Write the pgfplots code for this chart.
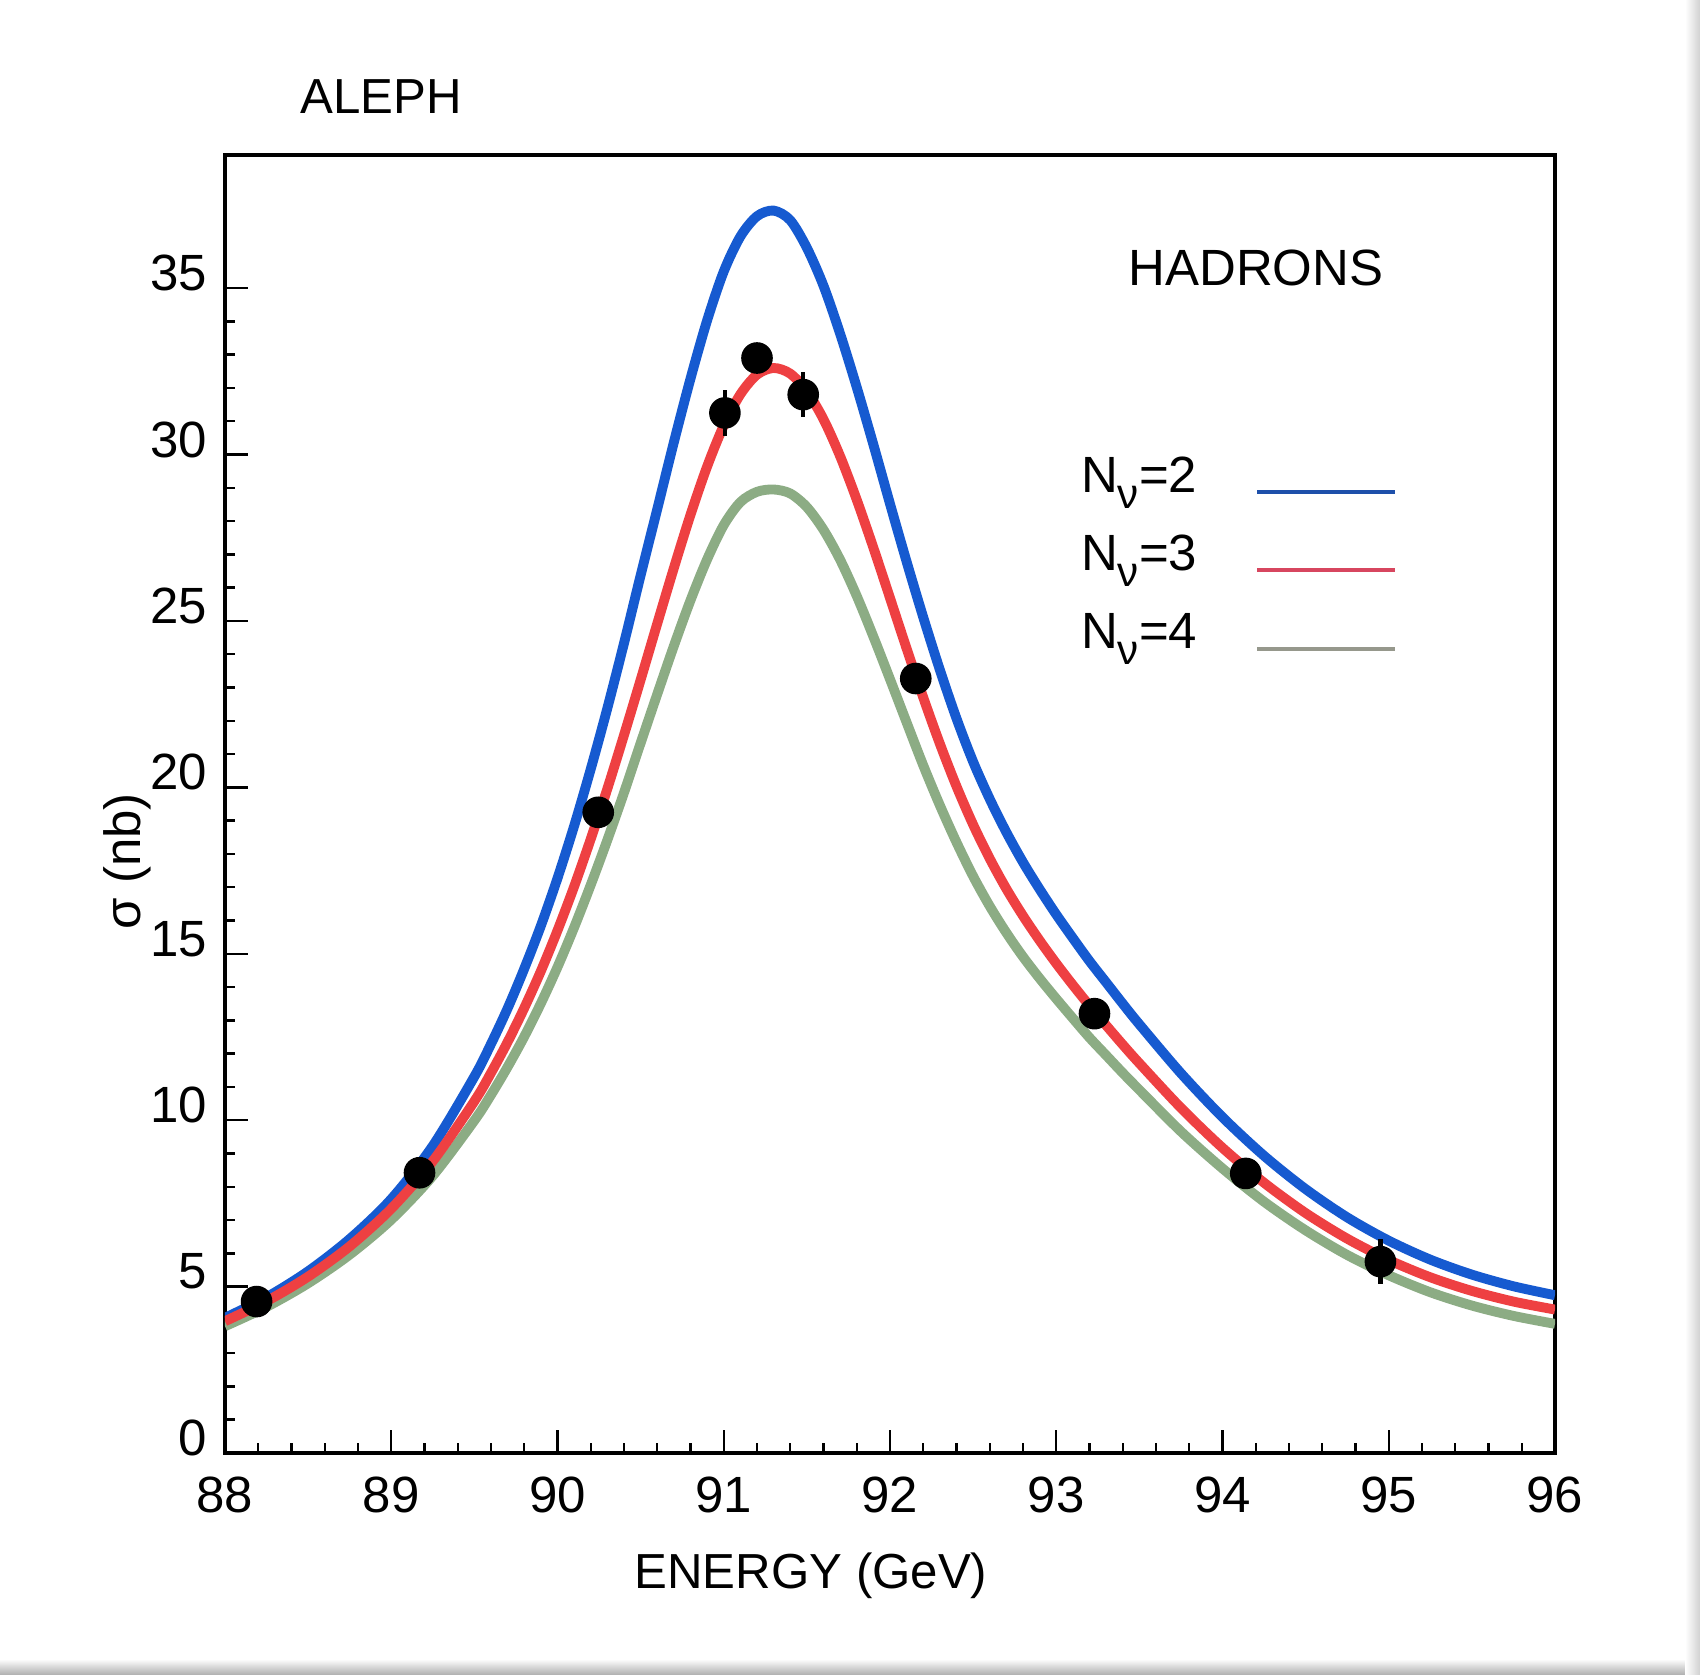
\documentclass[border=0pt]{standalone}
\usepackage{fontspec}
\setmainfont{Liberation Sans}
\usepackage{pgfplots}
\usepackage{pgfplotstable}
\pgfplotsset{compat=1.18}

\definecolor{cTwo}{RGB}{22,90,208}
\definecolor{cThree}{RGB}{238,64,66}
\definecolor{cFour}{RGB}{140,172,132}
\definecolor{lTwo}{RGB}{30,80,170}
\definecolor{lThree}{RGB}{215,70,95}
\definecolor{lFour}{RGB}{150,152,140}

\newcommand{\Nnu}[1]{N\raisebox{-4.6pt}{\fontsize{12}{12}\selectfont ν}=#1}
\newcommand{\lbl}{\fontsize{14.5}{17}\selectfont}

% line shapes: x  N=2  N=3  N=4
\pgfplotstableread{
x b r g
88.00 4.06 3.96 3.81
88.25 4.68 4.56 4.39
88.50 5.46 5.30 5.10
88.75 6.43 6.21 5.96
89.00 7.63 7.34 7.01
89.25 9.23 8.77 8.33
89.50 11.31 10.57 9.99
89.60 12.29 11.42 10.76
89.70 13.36 12.35 11.60
89.80 14.55 13.37 12.51
89.90 15.84 14.48 13.51
90.00 17.27 15.70 14.60
90.10 18.84 17.02 15.79
90.20 20.55 18.45 17.07
90.30 22.38 19.96 18.42
90.40 24.33 21.57 19.84
90.50 26.37 23.23 21.33
90.60 28.36 24.92 22.80
90.70 30.37 26.59 24.25
90.80 32.28 28.19 25.62
90.90 34.03 29.64 26.85
91.00 35.50 30.87 27.88
91.10 36.55 31.81 28.57
91.20 37.16 32.40 28.88
91.30 37.33 32.60 28.95
91.40 37.04 32.43 28.83
91.50 36.21 31.90 28.42
91.60 35.07 31.06 27.74
91.70 33.63 29.95 26.84
91.80 32.02 28.64 25.75
91.90 30.30 27.20 24.53
92.00 28.52 25.69 23.25
92.10 26.78 24.17 21.95
92.20 25.11 22.70 20.66
92.30 23.53 21.31 19.46
92.40 22.07 20.03 18.35
92.50 20.77 18.88 17.33
92.60 19.65 17.86 16.43
92.70 18.65 16.95 15.63
92.80 17.75 16.14 14.91
92.90 16.94 15.40 14.26
93.00 16.18 14.71 13.65
93.10 15.47 14.06 13.06
93.20 14.78 13.44 12.48
93.30 14.14 12.85 11.95
93.40 13.50 12.27 11.42
93.50 12.88 11.71 10.91
93.75 11.41 10.37 9.66
94.00 10.09 9.17 8.55
94.25 8.93 8.12 7.55
94.50 7.93 7.21 6.69
94.75 7.08 6.44 5.95
95.00 6.38 5.80 5.34
95.25 5.81 5.28 4.83
95.50 5.36 4.87 4.43
95.75 5.01 4.55 4.12
96.00 4.74 4.31 3.88
}\shapes

% measured hadronic cross sections
\pgfplotstableread{
x y ey
88.19 4.55 0.3
89.17 8.42 0.3
90.245 19.25 0.4
91.007 31.25 0.68
91.20 32.90 0.4
91.478 31.80 0.68
92.155 23.27 0.4
93.23 13.20 0.3
94.14 8.40 0.3
94.95 5.75 0.68
}\aleph

\begin{document}
\begin{tikzpicture}
\path[use as bounding box] (-2.25,-2.21) rectangle (14.75,14.53);
\shade[top color=white, bottom color=black!30] (-2.25,-2.06) rectangle (14.75,-2.21);
\shade[left color=white, right color=black!18] (14.6,-2.21) rectangle (14.75,14.53);
\begin{axis}[
  at={(0,0)}, anchor=south west,
  scale only axis, width=13.3cm, height=12.98cm,
  xmin=88, xmax=96, ymin=0, ymax=39,
  xtick={88,...,96}, ytick={0,5,...,35},
  minor x tick num=4, minor y tick num=4,
  tick align=inside, xtick pos=bottom, ytick pos=left,
  major tick length=0.23cm, minor tick length=0.1cm,
  tick style={black, line width=0.7pt},
  axis line style={line width=0.9pt},
  /pgf/number format/assume math mode=true,
  ticklabel style={font=\lbl},
  xticklabel style={anchor=north, inner sep=0pt, yshift=-0.23cm},
  yticklabel style={anchor=east, inner sep=0pt, xshift=-0.17cm, yshift=0.15cm},
  xlabel={ENERGY (GeV)},
  xlabel style={at={(rel axis cs:0.4406,-0.0763)}, anchor=north, inner sep=0pt, font=\fontsize{14}{17}\selectfont},
  ylabel={σ (nb)},
  ylabel style={at={(rel axis cs:-0.0632,0.456)}, anchor=base, inner sep=0pt, font=\fontsize{14.5}{17}\selectfont},
  legend image code/.code={\draw[#1, line width=1.1pt] (0cm,-0.14cm) -- (1.38cm,-0.14cm);},
  legend plot pos=right,
  legend cell align=left,
  legend style={at={(axis cs:93.15,30.14)}, anchor=north west, draw=none, fill=none,
    inner sep=0pt, outer sep=0pt, column sep=0.58cm, row sep=6.3pt,
    nodes={inner sep=0pt, text height=12pt, text depth=4pt, font=\lbl}},
  after end axis/.code={
    \node[anchor=base west, inner sep=0pt, font=\fontsize{14}{17}\selectfont] at (rel axis cs:0.0564,1.0316) {ALEPH};
  },
]
\addplot[cFour, line width=2.8pt, smooth, forget plot] table[x=x, y=g] {\shapes};
\addplot[cTwo, line width=2.8pt, smooth, forget plot] table[x=x, y=b] {\shapes};
\addplot[cThree, line width=2.8pt, smooth, forget plot] table[x=x, y=r] {\shapes};
\addplot[black, only marks, mark=*, mark size=4.3pt, forget plot,
  error bars/.cd, y dir=both, y explicit, error mark=none,
  error bar style={line width=1.2pt, black}] table[y error=ey] {\aleph};

\addlegendimage{lTwo}\addlegendentry{\Nnu{2}}
\addlegendimage{lThree}\addlegendentry{\Nnu{3}}
\addlegendimage{lFour}\addlegendentry{\Nnu{4}}

\node[anchor=base west, inner sep=0pt, font=\lbl] at (axis cs:93.43,35.08) {HADRONS};
\end{axis}
\end{tikzpicture}
\end{document}
